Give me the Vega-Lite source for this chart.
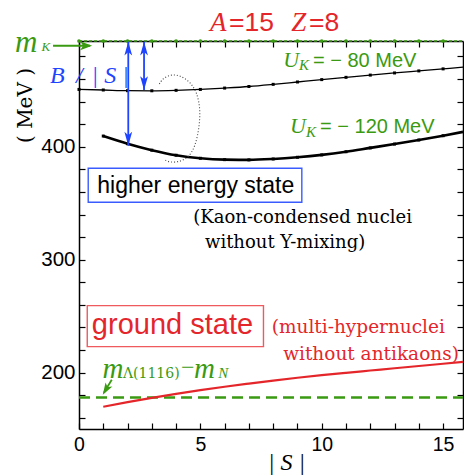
{
  "$schema": "https://vega.github.io/schema/vega-lite/v6.json",
  "width": 384,
  "height": 388,
  "autosize": {"type": "none"},
  "padding": {"left": 79, "top": 41, "right": 1, "bottom": 47},
  "background": "white",
  "config": {"view": {"stroke": null}},
  "datasets": {
    "curves": [
      {"c": "m80", "S": 0, "E": 450.8}, {"c": "m80", "S": 1, "E": 450.3}, {"c": "m80", "S": 2, "E": 449.7}, {"c": "m80", "S": 3, "E": 449.6},
      {"c": "m80", "S": 4, "E": 450.0}, {"c": "m80", "S": 5, "E": 450.8}, {"c": "m80", "S": 6, "E": 452.0}, {"c": "m80", "S": 7, "E": 453.4},
      {"c": "m80", "S": 8, "E": 455.3}, {"c": "m80", "S": 9, "E": 457.4}, {"c": "m80", "S": 10, "E": 459.5}, {"c": "m80", "S": 11, "E": 461.5},
      {"c": "m80", "S": 12, "E": 463.5}, {"c": "m80", "S": 13, "E": 465.4}, {"c": "m80", "S": 14, "E": 467.2}, {"c": "m80", "S": 15, "E": 469.0},
      {"c": "m80", "S": 15.82, "E": 470.5},
      {"c": "m120", "S": 1, "E": 409.5}, {"c": "m120", "S": 2, "E": 402.7}, {"c": "m120", "S": 3, "E": 397.0}, {"c": "m120", "S": 4, "E": 392.5},
      {"c": "m120", "S": 5, "E": 389.8}, {"c": "m120", "S": 6, "E": 388.6}, {"c": "m120", "S": 7, "E": 388.4}, {"c": "m120", "S": 8, "E": 389.2},
      {"c": "m120", "S": 9, "E": 390.7}, {"c": "m120", "S": 10, "E": 392.8}, {"c": "m120", "S": 11, "E": 395.6}, {"c": "m120", "S": 12, "E": 399.0},
      {"c": "m120", "S": 13, "E": 402.4}, {"c": "m120", "S": 14, "E": 406.0}, {"c": "m120", "S": 15, "E": 409.8}, {"c": "m120", "S": 15.82, "E": 413.2},
      {"c": "red", "S": 1, "E": 169.7}, {"c": "red", "S": 2, "E": 173.8}, {"c": "red", "S": 3, "E": 177.6}, {"c": "red", "S": 4, "E": 181.1},
      {"c": "red", "S": 5, "E": 184.4}, {"c": "red", "S": 6, "E": 187.4}, {"c": "red", "S": 7, "E": 190.2}, {"c": "red", "S": 8, "E": 192.9},
      {"c": "red", "S": 9, "E": 195.4}, {"c": "red", "S": 10, "E": 197.7}, {"c": "red", "S": 11, "E": 199.8}, {"c": "red", "S": 12, "E": 201.8},
      {"c": "red", "S": 13, "E": 203.8}, {"c": "red", "S": 14, "E": 205.8}, {"c": "red", "S": 15, "E": 207.8}, {"c": "red", "S": 15.82, "E": 209.5},
      {"c": "lam", "S": 0, "E": 178}, {"c": "lam", "S": 15.82, "E": 178},
      {"c": "mk", "S": 0, "E": 493.7}, {"c": "mk", "S": 1, "E": 493.7}, {"c": "mk", "S": 2, "E": 493.7}, {"c": "mk", "S": 3, "E": 493.7},
      {"c": "mk", "S": 4, "E": 493.7}, {"c": "mk", "S": 5, "E": 493.7}, {"c": "mk", "S": 6, "E": 493.7}, {"c": "mk", "S": 7, "E": 493.7},
      {"c": "mk", "S": 8, "E": 493.7}, {"c": "mk", "S": 9, "E": 493.7}, {"c": "mk", "S": 10, "E": 493.7}, {"c": "mk", "S": 11, "E": 493.7},
      {"c": "mk", "S": 12, "E": 493.7}, {"c": "mk", "S": 13, "E": 493.7}, {"c": "mk", "S": 14, "E": 493.7}, {"c": "mk", "S": 15, "E": 493.7},
      {"c": "mk", "S": 15.82, "E": 493.7}
    ],
    "loop": [
      {"o": 1, "S": 3.31, "E": 455.6}, {"o": 2, "S": 3.46, "E": 460.9}, {"o": 3, "S": 3.82, "E": 464.2}, {"o": 4, "S": 4.16, "E": 463.2},
      {"o": 5, "S": 4.57, "E": 457.7}, {"o": 6, "S": 4.86, "E": 448.5}, {"o": 7, "S": 5.01, "E": 432.6}, {"o": 8, "S": 4.94, "E": 414.9},
      {"o": 9, "S": 4.78, "E": 400.1}, {"o": 10, "S": 4.53, "E": 391.0}, {"o": 11, "S": 4.16, "E": 386.6}, {"o": 12, "S": 3.75, "E": 386.1},
      {"o": 13, "S": 3.54, "E": 388.3}
    ],
    "boxes": [
      {"b": "blue", "S": 0.38, "S2": 9.18, "E": 350.9, "E2": 381.0},
      {"b": "red", "S": 0.34, "S2": 7.6, "E": 223.0, "E2": 259.3}
    ],
    "arrows": [
      {"a": "blue", "S": 2.03, "S2": 2.03, "E": 401.0, "E2": 493.1},
      {"a": "blue", "S": 2.68, "S2": 2.68, "E": 450.3, "E2": 493.1},
      {"a": "green", "S": -1.07, "S2": 0.45, "E": 489.5, "E2": 489.5},
      {"a": "green", "S": 1.35, "S2": 1.02, "E": 193.6, "E2": 182.0}
    ],
    "heads": [
      {"h": "up", "S": 2.03, "E": 493.1}, {"h": "up", "S": 2.68, "E": 493.1},
      {"h": "down", "S": 2.03, "E": 401.0}, {"h": "down", "S": 2.68, "E": 450.3},
      {"h": "right", "S": 0.54, "E": 489.5},
      {"h": "dl", "S": 0.98, "E": 180.3}
    ],
    "txt": [
      {"g": "title_it", "S": 5.40, "E": 502.6, "text": "A"},
      {"g": "title_it", "S": 8.74, "E": 502.6, "text": "Z"},
      {"g": "title_sans", "S": 6.18, "E": 502.6, "text": "=15"},
      {"g": "title_sans", "S": 9.48, "E": 502.6, "text": "=8"},
      {"g": "uk_U", "S": 8.41, "E": 471.0, "text": "U"},
      {"g": "uk_U", "S": 8.69, "E": 412.0, "text": "U"},
      {"g": "uk_sub", "S": 9.06, "E": 468.0, "text": "K"},
      {"g": "uk_sub", "S": 9.35, "E": 408.7, "text": "K"},
      {"g": "uk_rest", "S": 9.64, "E": 471.0, "text": "=  −  80 MeV"},
      {"g": "uk_rest", "S": 9.93, "E": 412.0, "text": "=  −  120 MeV"},
      {"g": "mK_m", "S": -2.64, "E": 484.2, "text": "m"},
      {"g": "mK_sub", "S": -1.55, "E": 485.0, "text": "K"},
      {"g": "mL_m", "S": 0.97, "E": 195.1, "text": "m"},
      {"g": "mL_m", "S": 4.74, "E": 195.1, "text": "m"},
      {"g": "mL_sub", "S": 1.81, "E": 195.5, "text": "Λ(1116)"},
      {"g": "mN_sub", "S": 5.74, "E": 195.5, "text": "N"},
      {"g": "minus", "S": 4.20, "E": 198.0, "text": "−"},
      {"g": "blue_it", "S": -1.19, "E": 456.3, "text": "B"},
      {"g": "blue_it", "S": -0.12, "E": 456.3, "text": "/"},
      {"g": "blue_it", "S": 0.52, "E": 456.3, "text": "| S |"},
      {"g": "box_black", "S": 4.81, "E": 358.9, "text": "higher energy state"},
      {"g": "box_red", "S": 3.85, "E": 234.0, "text": "ground state"},
      {"g": "note_black", "S": 4.71, "E": 332.3, "text": "(Kaon-condensed nuclei"},
      {"g": "note_black", "S": 5.19, "E": 310.2, "text": "without Y-mixing)"},
      {"g": "note_red", "S": 7.94, "E": 234.9, "text": "(multi-hypernuclei"},
      {"g": "note_red", "S": 8.41, "E": 211.3, "text": "without antikaons)"}
    ]
  },
  "encoding": {
    "x": {"field": "S", "type": "quantitative", "scale": {"domain": [0, 15.82], "nice": false, "zero": false}, "axis": null},
    "y": {"field": "E", "type": "quantitative", "scale": {"domain": [150, 493.7], "nice": false, "zero": false}, "axis": null}
  },
  "layer": [
    {
      "data": {"name": "curves"},
      "transform": [{"filter": "datum.c === 'lam'"}],
      "mark": {"type": "line", "color": "#3a9a12", "strokeWidth": 2.5, "strokeDash": [11, 6]},
      "encoding": {
        "x": {"field": "S", "type": "quantitative", "scale": {"domain": [0, 15.82], "nice": false, "zero": false},
          "axis": {"orient": "bottom", "values": [0,1,2,3,4,5,6,7,8,9,10,11,12,13,14,15],
            "labelExpr": "datum.value % 5 === 0 ? datum.label : ''", "tickSize": -6, "labelPadding": 12,
            "labelFont": "Liberation Sans", "labelFontSize": 19.5, "labelColor": "black", "labelFlush": false, "labelOverlap": false,
            "domainColor": "black", "domainWidth": 1.5, "tickColor": "black", "tickWidth": 1.2, "grid": false,
            "title": "| S |", "titleFont": "Liberation Serif", "titleFontStyle": "italic", "titleFontWeight": "normal", "titleFontSize": 24,
            "titleColor": "black", "titleX": 207, "titleY": 40, "titleBaseline": "alphabetic", "titleAlign": "center"}},
        "y": {"field": "E", "type": "quantitative", "scale": {"domain": [150, 493.7], "nice": false, "zero": false},
          "axis": {"orient": "left", "values": [160,180,200,220,240,260,280,300,320,340,360,380,400,420,440,460,480],
            "labelExpr": "datum.value % 100 === 0 ? datum.label : ''", "tickSize": -6, "labelPadding": 10,
            "labelFont": "Liberation Sans", "labelFontSize": 20.5, "labelColor": "black", "labelFlush": false, "labelOverlap": false,
            "domainColor": "black", "domainWidth": 1.5, "tickColor": "black", "tickWidth": 1.2, "grid": false,
            "title": "( MeV )", "titleFont": "DejaVu Serif", "titleFontWeight": "normal", "titleFontSize": 20, "titleColor": "black",
            "titleX": -54, "titleY": 64, "titleAngle": -90, "titleBaseline": "middle", "titleAlign": "center"}}
      }
    },
    {
      "data": {"name": "curves"},
      "transform": [{"filter": "datum.c === 'mk'"}],
      "mark": {"type": "line", "color": "#3a9a12", "strokeWidth": 1.5, "strokeDash": [3, 2]},
      "encoding": {
        "x": {"field": "S", "type": "quantitative", "scale": {"domain": [0, 15.82], "nice": false, "zero": false},
          "axis": {"orient": "top", "values": [0,1,2,3,4,5,6,7,8,9,10,11,12,13,14,15], "labels": false, "tickSize": -6,
            "domainColor": "black", "domainWidth": 1.5, "tickColor": "black", "tickWidth": 1.2, "grid": false, "title": null}},
        "y": {"field": "E", "type": "quantitative", "scale": {"domain": [150, 493.7], "nice": false, "zero": false},
          "axis": {"orient": "right", "values": [160,180,200,220,240,260,280,300,320,340,360,380,400,420,440,460,480], "labels": false, "tickSize": -6,
            "domainColor": "black", "domainWidth": 1.5, "tickColor": "black", "tickWidth": 1.2, "grid": false, "title": null}}
      }
    },
    {
      "data": {"name": "curves"},
      "transform": [{"filter": "datum.c === 'mk' && datum.S % 1 === 0"}],
      "mark": {"type": "point", "shape": "circle", "filled": true, "color": "#3a9a12", "size": 14, "opacity": 1}
    },
    {
      "data": {"name": "curves"},
      "transform": [{"filter": "datum.c === 'm80'"}],
      "mark": {"type": "line", "color": "black", "strokeWidth": 1.3, "interpolate": "monotone"}
    },
    {
      "data": {"name": "curves"},
      "transform": [{"filter": "datum.c === 'm80' && datum.S % 1 === 0"}],
      "mark": {"type": "point", "shape": "square", "filled": true, "color": "black", "size": 9, "opacity": 1}
    },
    {
      "data": {"name": "curves"},
      "transform": [{"filter": "datum.c === 'm120'"}],
      "mark": {"type": "line", "color": "black", "strokeWidth": 2.6, "interpolate": "monotone"}
    },
    {
      "data": {"name": "curves"},
      "transform": [{"filter": "datum.c === 'm120' && datum.S % 1 === 0"}],
      "mark": {"type": "point", "shape": "square", "filled": true, "color": "black", "size": 9, "opacity": 1}
    },
    {
      "data": {"name": "curves"},
      "transform": [{"filter": "datum.c === 'red'"}],
      "mark": {"type": "line", "color": "#e4262b", "strokeWidth": 2.2, "interpolate": "monotone"}
    },
    {
      "data": {"name": "loop"},
      "mark": {"type": "line", "color": "#444", "strokeWidth": 1.1, "strokeDash": [1, 2], "interpolate": "basis"},
      "encoding": {"order": {"field": "o", "type": "quantitative"}}
    },
    {
      "data": {"name": "boxes"},
      "transform": [{"filter": "datum.b === 'blue'"}],
      "mark": {"type": "rect", "fill": null, "filled": false, "stroke": "#3a5cff", "strokeWidth": 1.4},
      "encoding": {"x2": {"field": "S2"}, "y2": {"field": "E2"}}
    },
    {
      "data": {"name": "boxes"},
      "transform": [{"filter": "datum.b === 'red'"}],
      "mark": {"type": "rect", "fill": null, "filled": false, "stroke": "#ee5a5e", "strokeWidth": 1.4},
      "encoding": {"x2": {"field": "S2"}, "y2": {"field": "E2"}}
    },
    {
      "data": {"name": "arrows"},
      "transform": [{"filter": "datum.a === 'blue'"}],
      "mark": {"type": "rule", "color": "#1f44ff", "strokeWidth": 1.8},
      "encoding": {"x2": {"field": "S2"}, "y2": {"field": "E2"}}
    },
    {
      "data": {"name": "arrows"},
      "transform": [{"filter": "datum.a === 'green'"}],
      "mark": {"type": "rule", "color": "#3a9a12", "strokeWidth": 1.8},
      "encoding": {"x2": {"field": "S2"}, "y2": {"field": "E2"}}
    },
    {
      "data": {"name": "heads"},
      "transform": [{"filter": "datum.h === 'up'"}],
      "mark": {"type": "point", "filled": true, "opacity": 1, "color": "#1f44ff", "size": 300, "shape": "M0,0L-0.45,1.6L0,1.2L0.45,1.6Z"}
    },
    {
      "data": {"name": "heads"},
      "transform": [{"filter": "datum.h === 'down'"}],
      "mark": {"type": "point", "filled": true, "opacity": 1, "color": "#1f44ff", "size": 300, "shape": "M0,0L-0.45,-1.6L0,-1.2L0.45,-1.6Z"}
    },
    {
      "data": {"name": "heads"},
      "transform": [{"filter": "datum.h === 'right'"}],
      "mark": {"type": "point", "filled": true, "opacity": 1, "color": "#3a9a12", "size": 400, "shape": "M0,0L-1.2,-0.45L-0.9,0L-1.2,0.45Z"}
    },
    {
      "data": {"name": "heads"},
      "transform": [{"filter": "datum.h === 'dl'"}],
      "mark": {"type": "point", "filled": true, "opacity": 1, "color": "#3a9a12", "size": 256, "angle": 31, "shape": "M0,0L-0.5,-1.5L0,-1.15L0.5,-1.5Z"}
    },
    {
      "data": {"name": "txt"}, "transform": [{"filter": "datum.g === 'title_it'"}],
      "mark": {"type": "text", "font": "Liberation Serif", "fontStyle": "italic", "fontSize": 27, "color": "#e4262b", "align": "left", "baseline": "alphabetic"},
      "encoding": {"text": {"field": "text"}}
    },
    {
      "data": {"name": "txt"}, "transform": [{"filter": "datum.g === 'title_sans'"}],
      "mark": {"type": "text", "font": "Liberation Sans", "fontSize": 26.5, "color": "#e4262b", "align": "left", "baseline": "alphabetic"},
      "encoding": {"text": {"field": "text"}}
    },
    {
      "data": {"name": "txt"}, "transform": [{"filter": "datum.g === 'uk_U'"}],
      "mark": {"type": "text", "font": "Liberation Serif", "fontStyle": "italic", "fontSize": 22, "color": "#3a9a12", "align": "left", "baseline": "alphabetic"},
      "encoding": {"text": {"field": "text"}}
    },
    {
      "data": {"name": "txt"}, "transform": [{"filter": "datum.g === 'uk_sub'"}],
      "mark": {"type": "text", "font": "Liberation Serif", "fontStyle": "italic", "fontSize": 15, "color": "#3a9a12", "align": "left", "baseline": "alphabetic"},
      "encoding": {"text": {"field": "text"}}
    },
    {
      "data": {"name": "txt"}, "transform": [{"filter": "datum.g === 'uk_rest'"}],
      "mark": {"type": "text", "font": "Liberation Sans", "fontSize": 20, "color": "#3a9a12", "align": "left", "baseline": "alphabetic"},
      "encoding": {"text": {"field": "text"}}
    },
    {
      "data": {"name": "txt"}, "transform": [{"filter": "datum.g === 'mK_m'"}],
      "mark": {"type": "text", "font": "Liberation Serif", "fontStyle": "italic", "fontSize": 31, "color": "#3a9a12", "align": "left", "baseline": "alphabetic"},
      "encoding": {"text": {"field": "text"}}
    },
    {
      "data": {"name": "txt"}, "transform": [{"filter": "datum.g === 'mK_sub'"}],
      "mark": {"type": "text", "font": "Liberation Serif", "fontStyle": "italic", "fontSize": 13, "color": "#3a9a12", "align": "left", "baseline": "alphabetic"},
      "encoding": {"text": {"field": "text"}}
    },
    {
      "data": {"name": "txt"}, "transform": [{"filter": "datum.g === 'mL_m'"}],
      "mark": {"type": "text", "font": "Liberation Serif", "fontStyle": "italic", "fontSize": 29, "color": "#3a9a12", "align": "left", "baseline": "alphabetic"},
      "encoding": {"text": {"field": "text"}}
    },
    {
      "data": {"name": "txt"}, "transform": [{"filter": "datum.g === 'mL_sub'"}],
      "mark": {"type": "text", "font": "DejaVu Serif", "fontSize": 14, "color": "#3a9a12", "align": "left", "baseline": "alphabetic"},
      "encoding": {"text": {"field": "text"}}
    },
    {
      "data": {"name": "txt"}, "transform": [{"filter": "datum.g === 'mN_sub'"}],
      "mark": {"type": "text", "font": "Liberation Serif", "fontStyle": "italic", "fontSize": 15, "color": "#3a9a12", "align": "left", "baseline": "alphabetic"},
      "encoding": {"text": {"field": "text"}}
    },
    {
      "data": {"name": "txt"}, "transform": [{"filter": "datum.g === 'minus'"}],
      "mark": {"type": "text", "font": "Liberation Serif", "fontSize": 24, "color": "#3a9a12", "align": "left", "baseline": "alphabetic"},
      "encoding": {"text": {"field": "text"}}
    },
    {
      "data": {"name": "txt"}, "transform": [{"filter": "datum.g === 'blue_it'"}],
      "mark": {"type": "text", "font": "Liberation Serif", "fontStyle": "italic", "fontSize": 24, "color": "#1f44ff", "align": "left", "baseline": "alphabetic"},
      "encoding": {"text": {"field": "text"}}
    },
    {
      "data": {"name": "txt"}, "transform": [{"filter": "datum.g === 'box_black'"}],
      "mark": {"type": "text", "font": "Liberation Sans", "fontSize": 23, "color": "black", "align": "center", "baseline": "alphabetic"},
      "encoding": {"text": {"field": "text"}}
    },
    {
      "data": {"name": "txt"}, "transform": [{"filter": "datum.g === 'box_red'"}],
      "mark": {"type": "text", "font": "Liberation Sans", "fontSize": 29, "color": "#e4262b", "align": "center", "baseline": "alphabetic"},
      "encoding": {"text": {"field": "text"}}
    },
    {
      "data": {"name": "txt"}, "transform": [{"filter": "datum.g === 'note_black'"}],
      "mark": {"type": "text", "font": "DejaVu Serif", "fontSize": 18, "color": "black", "align": "left", "baseline": "alphabetic"},
      "encoding": {"text": {"field": "text"}}
    },
    {
      "data": {"name": "txt"}, "transform": [{"filter": "datum.g === 'note_red'"}],
      "mark": {"type": "text", "font": "DejaVu Serif", "fontSize": 18.5, "color": "#e4262b", "align": "left", "baseline": "alphabetic"},
      "encoding": {"text": {"field": "text"}}
    }
  ],
  "resolve": {"axis": {"x": "independent", "y": "independent"}}
}
